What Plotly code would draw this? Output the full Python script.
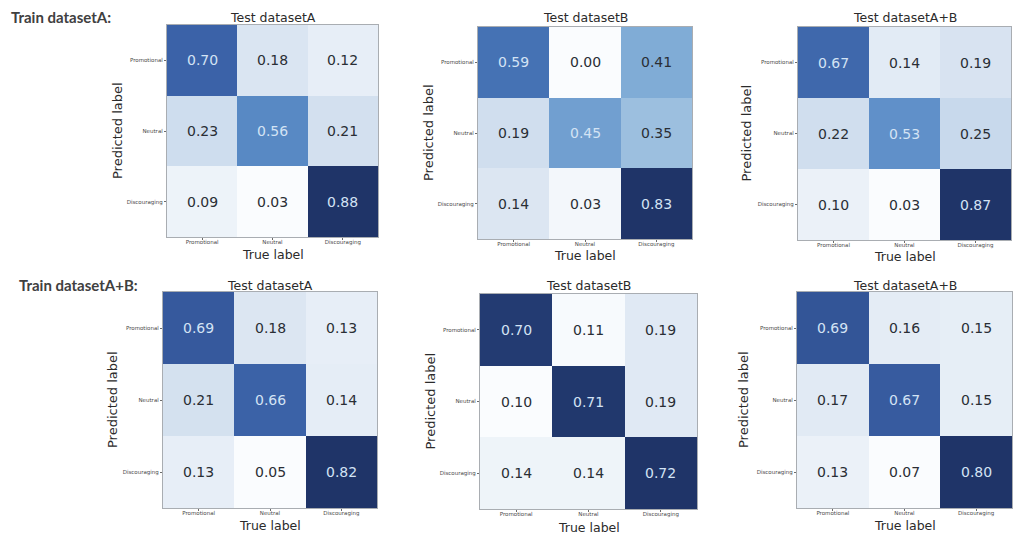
import plotly.graph_objects as go

# ---------------- data ----------------
categories = ["Promotional", "Neutral", "Discouraging"]

train_labels = ["Train datasetA:", "Train datasetA+B:"]
test_labels = ["Test datasetA", "Test datasetB", "Test datasetA+B"]

# rows = predicted label (top to bottom), columns = true label
trainA_testA = [[0.70, 0.18, 0.12], [0.23, 0.56, 0.21], [0.09, 0.03, 0.88]]
trainA_testB = [[0.59, 0.00, 0.41], [0.19, 0.45, 0.35], [0.14, 0.03, 0.83]]
trainA_testAB = [[0.67, 0.14, 0.19], [0.22, 0.53, 0.25], [0.10, 0.03, 0.87]]
trainAB_testA = [[0.69, 0.18, 0.13], [0.21, 0.66, 0.14], [0.13, 0.05, 0.82]]
trainAB_testB = [[0.70, 0.11, 0.19], [0.10, 0.71, 0.19], [0.14, 0.14, 0.72]]
trainAB_testAB = [[0.69, 0.16, 0.15], [0.17, 0.67, 0.15], [0.13, 0.07, 0.80]]

matrices = [
    [trainA_testA, trainA_testB, trainA_testAB],
    [trainAB_testA, trainAB_testB, trainAB_testAB],
]

# ---------------- styling ----------------
# the page body has an 8px margin; positions below are in window pixels
OFF = 8
W, H = 1005, 529

# panel boxes (left, right, top, bottom) in window pixels
panel_box = [
    [(167, 378, 25, 237), (478, 692, 27, 239), (798, 1011, 27, 240)],
    [(163, 377, 292, 508), (480, 697, 294, 509), (797, 1012, 292, 508)],
]
title_y = [[17, 18, 18], [285, 285, 285]]
xtitle_y = [[254, 255, 256], [525, 527, 525]]
ytitle_x = [[117, 428, 746], [112, 430, 743]]
row_label_pos = [(9, 17), (17, 285)]

blues = [
    [0.00, "#fafcfe"],
    [0.10, "#e8eff7"],
    [0.20, "#d6e2f0"],
    [0.30, "#c0d3e9"],
    [0.42, "#9dbfdf"],
    [0.50, "#7eaad5"],
    [0.60, "#5e8fc8"],
    [0.70, "#4674b6"],
    [0.80, "#3a60a6"],
    [0.90, "#2c4a88"],
    [1.00, "#1f3468"],
]

FONT = "DejaVu Sans"
DARK_TXT = "#2a2e35"
LIGHT_TXT = "#d3e3f4"


def px_x(p):
    return (p - OFF) / W


def px_y(p):
    return 1 - (p - OFF) / H


fig = go.Figure()
annotations = []
layout_axes = {}

k = 0
for r in range(2):
    for c in range(3):
        k += 1
        z = matrices[r][c]
        xa = "x" if k == 1 else f"x{k}"
        ya = "y" if k == 1 else f"y{k}"
        fig.add_trace(go.Heatmap(
            z=z, x=categories, y=categories,
            colorscale=blues, showscale=False,
            xaxis=xa, yaxis=ya, xgap=0, ygap=0,
            hovertemplate="True: %{x}<br>Predicted: %{y}<br>%{z:.2f}<extra></extra>",
        ))
        flat = [v for row in z for v in row]
        thresh = (max(flat) + min(flat)) / 2
        for i, pred in enumerate(categories):
            for j, true in enumerate(categories):
                v = z[i][j]
                annotations.append(dict(
                    x=true, y=pred, xref=xa, yref=ya, text=f"{v:.2f}",
                    showarrow=False,
                    font=dict(family=FONT, size=14,
                              color=LIGHT_TXT if v > thresh else DARK_TXT),
                ))
        x0, x1, y0, y1 = panel_box[r][c]
        axis_common = dict(
            showgrid=False, zeroline=False, showline=True, mirror=True,
            linecolor="#a9adb2", linewidth=1.2,
            ticks="outside", ticklen=2, tickcolor="#6b6b6b", tickwidth=0.8,
            tickfont=dict(family=FONT, size=5.5, color="#4a4a4a"),
            fixedrange=True,
        )
        layout_axes["xaxis" if k == 1 else f"xaxis{k}"] = dict(
            axis_common, domain=[px_x(x0), px_x(x1)], anchor=ya,
            categoryorder="array", categoryarray=categories,
            ticklabelstandoff=-3,
        )
        layout_axes["yaxis" if k == 1 else f"yaxis{k}"] = dict(
            axis_common, domain=[px_y(y1), px_y(y0)], anchor=xa,
            categoryorder="array", categoryarray=categories,
            autorange="reversed",
        )
        # panel title
        annotations.append(dict(
            x=px_x((x0 + x1) / 2), y=px_y(title_y[r][c]), xref="paper", yref="paper",
            text=test_labels[c], showarrow=False, xanchor="center", yanchor="middle",
            font=dict(family=FONT, size=12.5, color="#2b2b2b"),
        ))
        # x axis title
        annotations.append(dict(
            x=px_x((x0 + x1) / 2), y=px_y(xtitle_y[r][c]), xref="paper", yref="paper",
            text="True label", showarrow=False, xanchor="center", yanchor="middle",
            font=dict(family=FONT, size=12.5, color="#2b2b2b"),
        ))
        # y axis title
        annotations.append(dict(
            x=px_x(ytitle_x[r][c]), y=px_y((y0 + y1) / 2), xref="paper", yref="paper",
            text="Predicted label", showarrow=False, textangle=-90,
            xanchor="center", yanchor="middle",
            font=dict(family=FONT, size=13, color="#2b2b2b"),
        ))

# row labels
for (lx, ly), lab in zip(row_label_pos, train_labels):
    annotations.append(dict(
        x=px_x(lx), y=px_y(ly), xref="paper", yref="paper", text=f"<b>{lab}</b>",
        showarrow=False, xanchor="left", yanchor="middle",
        font=dict(family="Lato", size=15, color="#404040"),
    ))

fig.update_layout(
    width=W, height=H,
    margin=dict(l=0, r=0, t=0, b=0),
    paper_bgcolor="white", plot_bgcolor="white",
    showlegend=False,
    annotations=annotations,
    **layout_axes,
)

fig.write_html("out.html")
